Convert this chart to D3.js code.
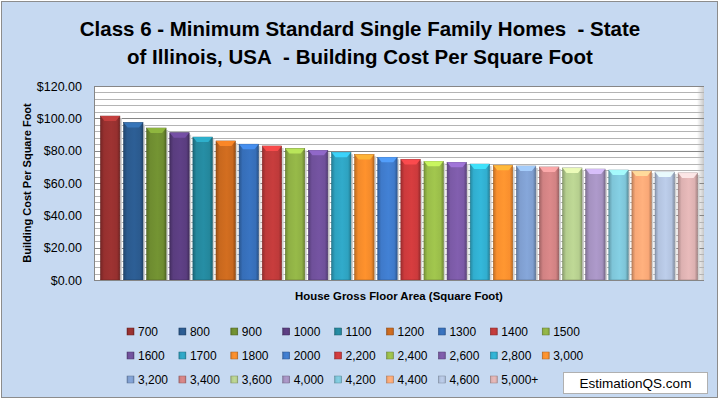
<!DOCTYPE html>
<html>
<head>
<meta charset="utf-8">
<script src="https://cdn.jsdelivr.net/npm/d3@7"></script>
<style>
  body { margin: 0; background: #fff; }
  svg { display: block; }
  text { font-family: "Liberation Sans", Arial, sans-serif; }
</style>
</head>
<body>
<div id="chart"></div>
<script>
// floor area bands (legend series) and cost per square foot
var areas = ["700", "800", "900", "1000", "1100", "1200", "1300", "1400", "1500",
             "1600", "1700", "1800", "2000", "2,200", "2,400", "2,600", "2,800", "3,000",
             "3,200", "3,400", "3,600", "4,000", "4,200", "4,400", "4,600", "5,000+"];
var costs = [101.4, 97.4, 94.0, 91.1, 88.4, 86.0, 84.0, 82.9, 81.4,
             80.2, 79.0, 77.7, 75.9, 74.6, 73.4, 72.8, 71.7, 71.0,
             70.5, 69.9, 69.3, 68.6, 68.0, 67.4, 66.8, 66.2];
var colors = ["#96302f", "#2b5a8e", "#6e8c30", "#5a3d7f", "#24879c", "#c8681e", "#366eb8", "#be3a3a", "#8fb045",
              "#6f509a", "#2ea2c0", "#f28a2b", "#3f7aca", "#cc3a3c", "#9abd4a", "#7b5aa6", "#31aecf", "#f98f2e",
              "#7f9ecf", "#d18283", "#b5ce8e", "#a592c0", "#7ec5d8", "#f9a877", "#b3c3df", "#ddb1b1"];
var yTicks = [0, 20, 40, 60, 80, 100, 120];

var W = 720, H = 400;
var plot = { left: 94, right: 704, top: 86, bottom: 280 };

var svg = d3.select("#chart").append("svg")
    .attr("width", W)
    .attr("height", H);

var defs = svg.append("defs");

// chart area background and border
svg.append("rect")
    .attr("x", 1.5).attr("y", 1.5)
    .attr("width", W - 4).attr("height", H - 4)
    .attr("fill", "#c6d9f1")
    .attr("stroke", "#8c8c8c");

// title (nbsp keeps the double spaces of the original)
var title = svg.append("g")
    .attr("font-weight", "bold")
    .attr("font-size", "20.5px")
    .attr("text-anchor", "middle")
    .attr("fill", "#000");
title.append("text").attr("x", 360).attr("y", 36)
    .text("Class 6 - Minimum Standard Single Family Homes\u00a0 - State");
title.append("text").attr("x", 360).attr("y", 64)
    .text("of Illinois, USA\u00a0 - Building Cost Per Square Foot");

var x = d3.scaleBand()
    .domain(areas)
    .range([plot.left, plot.right])
    .paddingInner(0.16)
    .paddingOuter(0.28);

var y = d3.scaleLinear()
    .domain([0, 120])
    .range([plot.bottom, plot.top]);

// plot area
svg.append("rect")
    .attr("x", plot.left).attr("y", plot.top)
    .attr("width", plot.right - plot.left)
    .attr("height", plot.bottom - plot.top)
    .attr("fill", "#fff");

// shadow strip at the right edge of the plot
var sh = defs.append("linearGradient").attr("id", "plotShadow");
sh.append("stop").attr("offset", "0%").attr("stop-color", "#fff");
sh.append("stop").attr("offset", "100%").attr("stop-color", "#c8c8c8");
svg.append("rect")
    .attr("x", plot.right - 7).attr("y", plot.top)
    .attr("width", 7).attr("height", plot.bottom - plot.top)
    .attr("fill", "url(#plotShadow)");

// gridlines: minor every $4, major every $20
var minor = d3.range(4, 121, 4).filter(function(v) { return v % 20 !== 0; });
svg.append("g").selectAll("line").data(minor).join("line")
    .attr("x1", plot.left).attr("x2", plot.right)
    .attr("y1", function(d) { return Math.round(y(d)) + 0.5; })
    .attr("y2", function(d) { return Math.round(y(d)) + 0.5; })
    .attr("stroke", "#b4b4b4");
svg.append("g").selectAll("line").data(yTicks.slice(1)).join("line")
    .attr("x1", plot.left).attr("x2", plot.right)
    .attr("y1", function(d) { return Math.round(y(d)) + 0.5; })
    .attr("y2", function(d) { return Math.round(y(d)) + 0.5; })
    .attr("stroke", "#868686");

// bar gradients
function barGradient(id, c) {
    var g = defs.append("linearGradient").attr("id", id);
    var base = d3.color(c);
    g.append("stop").attr("offset", "0%").attr("stop-color", base.darker(0.7));
    g.append("stop").attr("offset", "18%").attr("stop-color", base);
    g.append("stop").attr("offset", "55%").attr("stop-color", base.brighter(0.15));
    g.append("stop").attr("offset", "85%").attr("stop-color", base);
    g.append("stop").attr("offset", "100%").attr("stop-color", base.darker(0.8));
}
colors.forEach(function(c, i) { barGradient("bar" + i, c); });

var bars = svg.append("g").selectAll("g").data(areas).join("g");

// soft shadow to the right of each bar
bars.append("rect")
    .attr("x", function(d) { return x(d) + x.bandwidth(); })
    .attr("y", function(d, i) { return y(costs[i]) + 2; })
    .attr("width", 2)
    .attr("height", function(d, i) { return plot.bottom - y(costs[i]) - 2; })
    .attr("fill", "#d0d0d0");

bars.append("rect")
    .attr("x", function(d) { return x(d); })
    .attr("y", function(d, i) { return y(costs[i]); })
    .attr("width", x.bandwidth())
    .attr("height", function(d, i) { return plot.bottom - y(costs[i]); })
    .attr("fill", function(d, i) { return "url(#bar" + i + ")"; })
    .attr("stroke", function(d, i) { return d3.color(colors[i]).darker(1); })
    .attr("stroke-width", 0.6);

// bevelled top cap
bars.append("path")
    .attr("d", function(d, i) {
        var x0 = x(d), x1 = x(d) + x.bandwidth(), t = y(costs[i]);
        return "M" + x0 + "," + t + "L" + x1 + "," + t +
               "L" + (x1 - 4) + "," + (t + 5) + "L" + (x0 + 4) + "," + (t + 5) + "Z";
    })
    .attr("fill", function(d, i) { return d3.color(colors[i]).brighter(0.8); })
    .attr("opacity", 0.9);

// axes lines
svg.append("line")
    .attr("x1", plot.left + 0.5).attr("x2", plot.left + 0.5)
    .attr("y1", plot.top).attr("y2", plot.bottom)
    .attr("stroke", "#868686");
svg.append("line")
    .attr("x1", plot.left).attr("x2", plot.right)
    .attr("y1", plot.bottom + 0.5).attr("y2", plot.bottom + 0.5)
    .attr("stroke", "#868686");

// y tick labels
svg.append("g").selectAll("text").data(yTicks).join("text")
    .attr("x", 82)
    .attr("y", function(d) { return y(d) + 4.5; })
    .attr("text-anchor", "end")
    .attr("font-size", "12.5px")
    .attr("fill", "#000")
    .text(function(d) { return "$" + d3.format(".2f")(d); });

// axis titles
svg.append("text")
    .attr("transform", "translate(31,183) rotate(-90)")
    .attr("text-anchor", "middle")
    .attr("font-size", "11px")
    .attr("font-weight", "bold")
    .text("Building Cost Per Square Foot");
svg.append("text")
    .attr("x", 399).attr("y", 300)
    .attr("text-anchor", "middle")
    .attr("font-size", "11.4px")
    .attr("font-weight", "bold")
    .text("House Gross Floor Area (Square Foot)");

// legend: 9 per row
var legend = svg.append("g").selectAll("g").data(areas).join("g")
    .attr("transform", function(d, i) {
        return "translate(" + (127 + (i % 9) * 51.9) + "," + (328 + Math.floor(i / 9) * 24) + ")";
    });
legend.append("rect")
    .attr("width", 7).attr("height", 7)
    .attr("fill", function(d, i) { return "url(#bar" + i + ")"; })
    .attr("stroke", function(d, i) { return d3.color(colors[i]).darker(1); })
    .attr("stroke-width", 0.5);
legend.append("text")
    .attr("x", 11).attr("y", 8)
    .attr("font-size", "12px")
    .attr("fill", "#000")
    .text(function(d) { return d; });

// watermark box
svg.append("rect")
    .attr("x", 563.5).attr("y", 372.5)
    .attr("width", 144).attr("height", 21)
    .attr("fill", "#fff")
    .attr("stroke", "#b0b0b0");
svg.append("text")
    .attr("x", 635.5).attr("y", 388)
    .attr("text-anchor", "middle")
    .attr("font-size", "13.5px")
    .text("EstimationQS.com");
</script>
</body>
</html>
